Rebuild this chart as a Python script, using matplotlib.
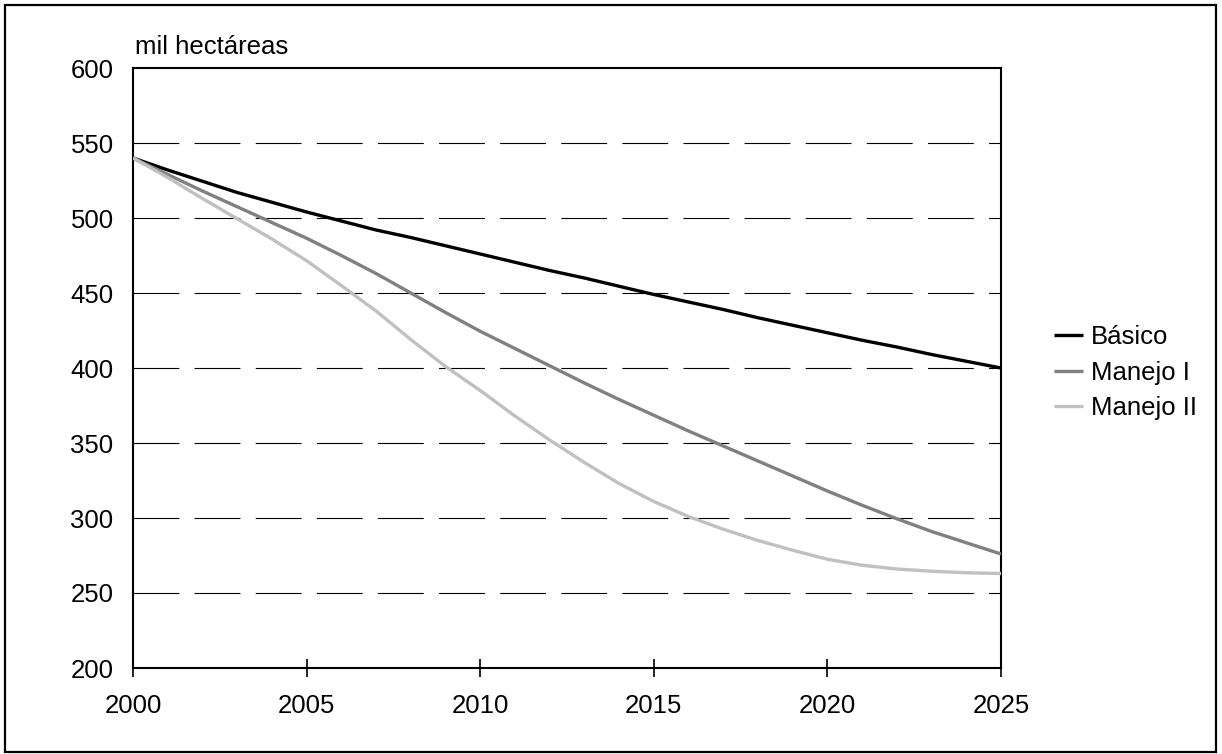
import matplotlib
matplotlib.use("Agg")
import matplotlib.pyplot as plt
from matplotlib.patches import Rectangle

plt.rcParams['font.family'] = ['Liberation Sans', 'DejaVu Sans']
plt.rcParams['lines.scale_dashes'] = False

# data (mil hectáreas)
years = list(range(2000, 2026))
basico = [540, 532, 524.5, 517, 510.5, 504, 498, 492, 487, 481.5, 476, 470.5, 465,
          460, 454.5, 449, 444, 439, 433.5, 428.5, 423.5, 418.5, 414, 409, 404.5, 400]
manejo_1 = [540, 529, 518, 507.5, 497, 486.5, 475, 463, 450, 437, 424.5, 413, 401.5,
            390, 379, 368.5, 358, 348, 338, 328, 318, 308.5, 299.5, 291, 283.5, 276]
manejo_2 = [540, 527, 513, 499.5, 486, 471.5, 455, 438, 419, 401, 385, 368, 352,
            337, 323, 311, 301, 292.5, 285, 278.5, 272.5, 268.5, 266, 264.5, 263.5, 263]

series_names = ['Básico', 'Manejo I', 'Manejo II']
series_colors = ['#000000', '#808080', '#c0c0c0']
x_ticks = [2000, 2005, 2010, 2015, 2020, 2025]
y_ticks = [200, 250, 300, 350, 400, 450, 500, 550, 600]

FS = 18.5


def main():
    fig = plt.figure(figsize=(12.22, 7.54), dpi=100)
    ax = fig.add_axes([133 / 1222, 1 - 668 / 754, 868 / 1222, 600 / 754])

    # dashed horizontal gridlines
    for y in y_ticks[1:-1]:
        ax.axhline(y, color='black', linewidth=0.8, linestyle=(0, (33, 11)), zorder=1)

    for vals, name, col in zip([basico, manejo_1, manejo_2], series_names, series_colors):
        ax.plot(years, vals, color=col, linewidth=2.4, label=name, zorder=3,
                solid_capstyle='butt')

    ax.set_xlim(2000, 2025)
    ax.set_ylim(200, 600)
    ax.set_xticks(x_ticks)
    ax.set_yticks(y_ticks)
    ax.tick_params(axis='x', direction='inout', length=13, width=1.2, pad=12, labelsize=FS)
    ax.tick_params(axis='y', length=0, pad=14, labelsize=FS)
    for sp in ax.spines.values():
        sp.set_linewidth(1.5)

    ax.text(0.002, 1.023, 'mil hectáreas', transform=ax.transAxes, ha='left',
            va='baseline', fontsize=FS)

    ax.legend(loc='center left', bbox_to_anchor=(1.046, 0.492), frameon=False,
              fontsize=FS, handlelength=1.15, handletextpad=0.3, labelspacing=0.45,
              borderpad=0)

    # outer border around the whole figure
    fig.patches.append(Rectangle((5 / 1222, 2 / 754), 1211 / 1222, 747 / 754,
                                 transform=fig.transFigure, fill=False,
                                 edgecolor='black', linewidth=1.6))

    fig.savefig('out.png', dpi=100)


if __name__ == "__main__":
    main()
